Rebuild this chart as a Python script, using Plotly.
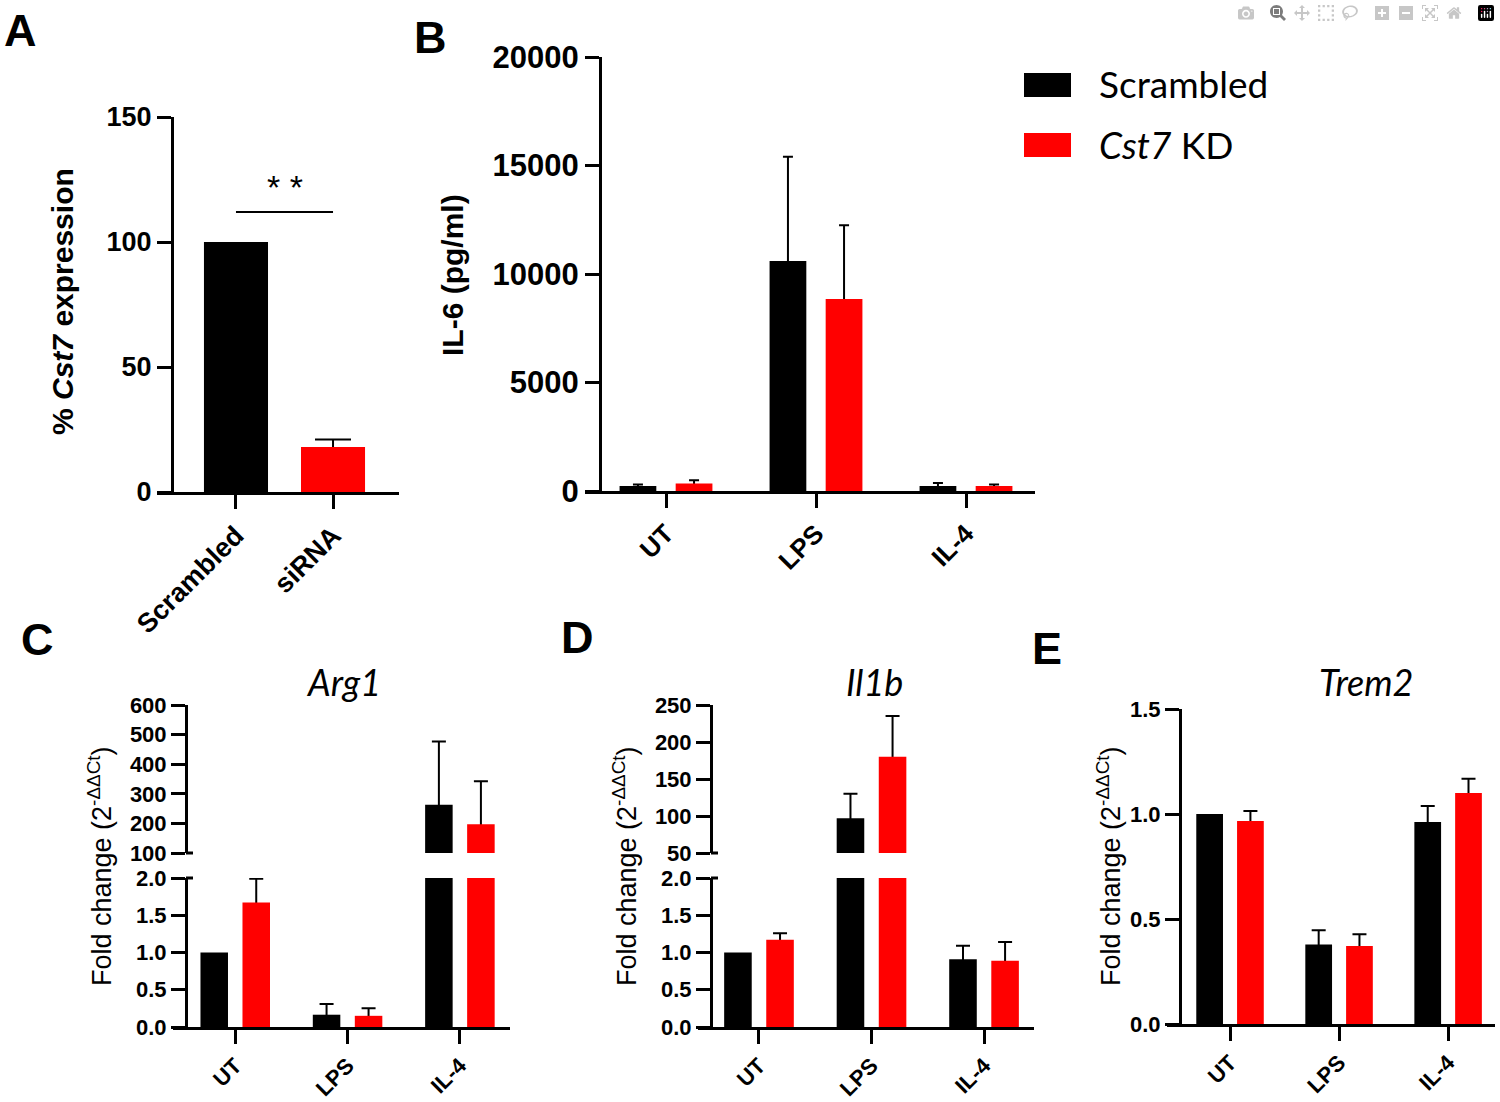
import plotly.graph_objects as go

W, H = 1500, 1102

# ---------------- data ----------------
# Panel A
a_groups = ["Scrambled", "siRNA"]
a_values = [100, 18]
a_err = [None, 3]
a_sig_y = 112

# Panels B-E share conditions
conds = ["UT", "LPS", "IL-4"]

# Panel B: IL-6 (pg/ml)
b_scr = [230, 10600, 230]
b_scr_err = [70, 4800, 140]
b_kd = [350, 8850, 230]
b_kd_err = [150, 3400, 70]

# Panel C: Arg1
c_scr = [1.0, 0.165, 263]
c_scr_err = [None, 0.145, 214]
c_kd = [1.67, 0.15, 197]
c_kd_err = [0.32, 0.10, 145]

# Panel D: Il1b
d_scr = [1.0, 97, 0.91]
d_scr_err = [None, 33, 0.18]
d_kd = [1.17, 180, 0.89]
d_kd_err = [0.09, 55, 0.25]

# Panel E: Trem2
e_scr = [1.0, 0.378, 0.962]
e_scr_err = [None, 0.068, 0.076]
e_kd = [0.967, 0.371, 1.10]
e_kd_err = [0.047, 0.056, 0.068]

# ---------------- helpers ----------------
def px(x):
    return x / W


def py(y):
    return 1 - y / H


BLACK = "#000000"
RED = "#ff0000"
FONT = "Liberation Sans"
SANS2 = "Lato"

fig = go.Figure()


def bars(x, vals, errs, color, xa, ya, width, offset, capw=7):
    # error bar carrier (only points that have an error), drawn first so the
    # lower half of each error bar is hidden by the bar drawn on top
    ex = [c for c, e in zip(x, errs) if e is not None]
    ev = [v for v, e in zip(vals, errs) if e is not None]
    ee = [e for e in errs if e is not None]
    if ex:
        fig.add_trace(go.Bar(
            x=ex, y=ev, xaxis=xa, yaxis=ya, width=width, offset=offset,
            marker=dict(color="rgba(0,0,0,0)", line=dict(width=0)),
            error_y=dict(type="data", array=ee, symmetric=True,
                         color=BLACK, thickness=2, width=capw),
            hoverinfo="skip", showlegend=False))
    fig.add_trace(go.Bar(
        x=x, y=vals, xaxis=xa, yaxis=ya, width=width, offset=offset,
        marker=dict(color=color, line=dict(width=0)),
        showlegend=False))


# Panel A
bars(a_groups, a_values, a_err, [BLACK, RED], "x", "y", 0.66, -0.33, capw=18)

W_BAR = 0.245
D_OFF = 0.187
OFF_S = -D_OFF - W_BAR / 2
OFF_K = D_OFF - W_BAR / 2

# Panel B
bars(conds, b_scr, b_scr_err, BLACK, "x2", "y2", W_BAR, OFF_S, capw=5)
bars(conds, b_kd, b_kd_err, RED, "x2", "y2", W_BAR, OFF_K, capw=5)

# Panel C (broken axis: bottom y3, top y4)
for ya in ("y3", "y4"):
    bars(conds, c_scr, c_scr_err, BLACK, "x3", ya, W_BAR, OFF_S)
    bars(conds, c_kd, c_kd_err, RED, "x3", ya, W_BAR, OFF_K)

# Panel D (broken axis: bottom y5, top y6)
for ya in ("y5", "y6"):
    bars(conds, d_scr, d_scr_err, BLACK, "x4", ya, W_BAR, OFF_S)
    bars(conds, d_kd, d_kd_err, RED, "x4", ya, W_BAR, OFF_K)

# Panel E
bars(conds, e_scr, e_scr_err, BLACK, "x5", "y7", W_BAR, OFF_S)
bars(conds, e_kd, e_kd_err, RED, "x5", "y7", W_BAR, OFF_K)


def axstyle(size, angle=None):
    d = dict(showline=True, linecolor=BLACK, linewidth=3, ticks="outside",
             ticklen=14, tickwidth=3, tickcolor=BLACK, showgrid=False,
             zeroline=False, mirror=False, automargin=False,
             tickfont=dict(family=FONT, size=size, color=BLACK, weight="bold"))
    if angle is not None:
        d["tickangle"] = angle
    return d


def cat(cats):
    return dict(type="category", categoryorder="array", categoryarray=cats)


fig.update_layout(
    # Panel A
    xaxis=dict(domain=[px(157), px(399)], range=[-0.814, 1.68], anchor="y",
               **cat(a_groups), **axstyle(27, -45)),
    yaxis=dict(domain=[py(492), py(117)], range=[0, 150], anchor="free",
               position=px(172), tickvals=[0, 50, 100, 150], **axstyle(27)),
    # Panel B
    xaxis2=dict(domain=[px(585), px(1035)], range=[-0.54, 2.46], anchor="y2",
                **cat(conds), **axstyle(26, -45)),
    yaxis2=dict(domain=[py(491), py(57)], range=[0, 20000], anchor="free",
                position=px(600), tickvals=[0, 5000, 10000, 15000, 20000],
                tickformat="d", **axstyle(31)),
    # Panel C
    xaxis3=dict(domain=[px(173), px(510)], range=[-0.554, 2.446], anchor="y3",
                **cat(conds), **axstyle(22, -45)),
    yaxis3=dict(domain=[py(1027), py(878)], range=[0, 2], anchor="free",
                position=px(186), tickvals=[0, 0.5, 1, 1.5, 2],
                tickformat=".1f", **axstyle(22)),
    yaxis4=dict(domain=[py(853), py(705)], range=[100, 600], anchor="free",
                position=px(186), tickvals=[100, 200, 300, 400, 500, 600],
                **axstyle(22)),
    # Panel D
    xaxis4=dict(domain=[px(698), px(1034)], range=[-0.542, 2.444], anchor="y5",
                **cat(conds), **axstyle(22, -45)),
    yaxis5=dict(domain=[py(1027), py(878)], range=[0, 2], anchor="free",
                position=px(711), tickvals=[0, 0.5, 1, 1.5, 2],
                tickformat=".1f", **axstyle(22)),
    yaxis6=dict(domain=[py(853), py(705)], range=[50, 250], anchor="free",
                position=px(711), tickvals=[50, 100, 150, 200, 250],
                **axstyle(22)),
    # Panel E
    xaxis5=dict(domain=[px(1167), px(1495)], range=[-0.578, 2.43], anchor="y7",
                **cat(conds), **axstyle(22, -45)),
    yaxis7=dict(domain=[py(1024), py(709)], range=[0, 1.5], anchor="free",
                position=px(1180), tickvals=[0, 0.5, 1.0, 1.5],
                tickformat=".1f", **axstyle(22)),
)

shapes = []
# axis break marks (extend to the right of the axis)
for ax_x, ys in ((186, (878, 853)), (711, (878, 853))):
    for yy in ys:
        shapes.append(dict(type="line", xref="paper", yref="paper",
                           x0=px(ax_x), x1=px(ax_x + 7), y0=py(yy), y1=py(yy),
                           line=dict(color=BLACK, width=3)))
# significance line in A
shapes.append(dict(type="line", xref="x", yref="y", x0=0, x1=1,
                   y0=a_sig_y, y1=a_sig_y, line=dict(color=BLACK, width=2)))
# legend swatches
shapes.append(dict(type="rect", xref="paper", yref="paper", x0=px(1024), x1=px(1071),
                   y0=py(97), y1=py(73), fillcolor=BLACK, line=dict(width=0)))
shapes.append(dict(type="rect", xref="paper", yref="paper", x0=px(1024), x1=px(1071),
                   y0=py(157), y1=py(133), fillcolor=RED, line=dict(width=0)))

ann = []


def txt(x, y, t, size, family=FONT, weight="normal", style="normal", angle=0,
        xanchor="center"):
    ann.append(dict(x=px(x), y=py(y), xref="paper", yref="paper", text=t,
                    showarrow=False, xanchor=xanchor, yanchor="middle",
                    textangle=angle,
                    font=dict(family=family, size=size, color=BLACK,
                              weight=weight, style=style)))


# panel letters
for L, x, y in (("A", 20, 31), ("B", 430, 37), ("C", 37, 639), ("D", 577, 637),
                ("E", 1047, 648)):
    txt(x, y, L, 45, weight="bold")

# axis titles
txt(62, 302, "% <i>Cst7</i> expression", 30, weight="bold", angle=-90)
txt(452, 275, "IL-6 (pg/ml)", 30, weight="bold", angle=-90)
ftitle = "Fold change (2<sup>-ΔΔCt</sup>)"
txt(100, 866, ftitle, 27, angle=-90)
txt(625, 866, ftitle, 27, angle=-90)
txt(1109, 866, ftitle, 27, angle=-90)

# panel titles
txt(343, 682, "Arg1", 36, family=SANS2, style="italic")
txt(874, 682, "Il1b", 36, family=SANS2, style="italic")
txt(1366, 682, "Trem2", 36, family=SANS2, style="italic")

# significance stars
ann.append(dict(x=0.5, y=a_sig_y + 1.5, xref="x", yref="y", text="* *",
                showarrow=False, yanchor="bottom",
                font=dict(family=FONT, size=34, color=BLACK)))

# legend text
txt(1097, 84, "Scrambled", 37, family=SANS2, xanchor="left")
txt(1097, 144, "<i>Cst7</i> KD", 37, family=SANS2, xanchor="left")

fig.update_layout(
    width=W, height=H, margin=dict(l=0, r=0, t=0, b=0, autoexpand=False),
    paper_bgcolor="white", plot_bgcolor="white",
    barmode="overlay", showlegend=False,
    shapes=shapes, annotations=ann,
)

fig.write_html("out.html", post_script="document.body.style.margin='0';")
